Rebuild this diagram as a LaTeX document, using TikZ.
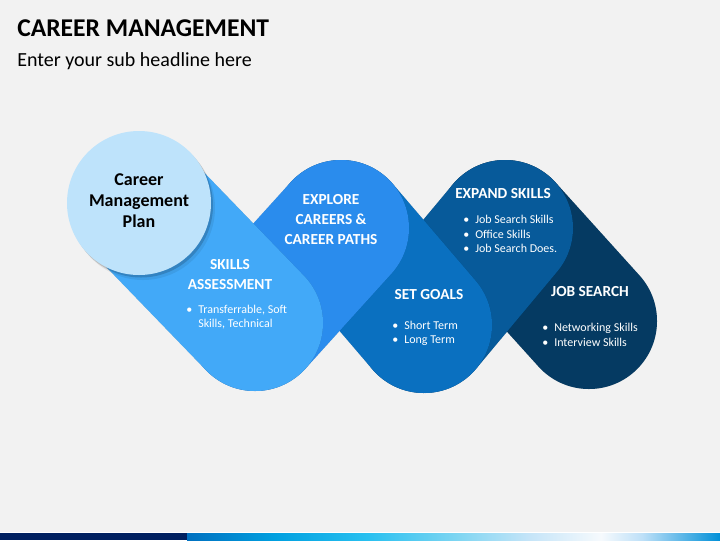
\documentclass[tikz,border=0pt]{standalone}
\usepackage{fontspec}
\setmainfont{Carlito}
\usetikzlibrary{calc, positioning}
\definecolor{bgGray}{HTML}{F2F2F2}
\definecolor{planBlue}{HTML}{BEE3FB}
\definecolor{skillBlue}{HTML}{42A9F8}
\definecolor{exploreBlue}{HTML}{2A8CED}
\definecolor{goalBlue}{HTML}{0A70C0}
\definecolor{expandBlue}{HTML}{075A9A}
\definecolor{searchBlue}{HTML}{053A62}
\definecolor{stripNavy}{HTML}{002060}
\tikzset{
  pill/.style={line width=102pt, line cap=round},
  pillshadow/.style={line width=102pt, line cap=round, black, opacity=0.16},
  pillhaze/.style={line width=102pt, line cap=round, black, opacity=0.07},
  head/.style={font=\bfseries\fontsize{11.5}{15}\selectfont, text=white, align=center, inner sep=0.75pt},
  points/.style={font=\fontsize{9}{10.8}\selectfont, text=white, align=left, inner sep=0.75pt, anchor=west},
}
\newcommand{\bul}{\makebox[9pt][l]{\textbullet}}
\begin{document}
\begin{tikzpicture}[x=0.75pt,y=0.75pt,yscale=-1,xscale=1]
		%set diagram to 720 x 540
		\fill [bgGray] (0,0) rectangle (720,540);
		\useasboundingbox (0,0) rectangle (720,540);

		%Bottom strip
		\fill [white] (0,531.5) rectangle (720,533);
		\fill [stripNavy] (0,533) rectangle (187,540);
		\shade [left color={rgb,255:red,0;green,112;blue,192}, right color={rgb,255:red,0;green,160;blue,224}] (187,533) rectangle (275,540);
		\shade [left color={rgb,255:red,0;green,160;blue,224}, right color={rgb,255:red,40;green,192;blue,240}] (275,533) rectangle (367,540);
		\shade [left color={rgb,255:red,40;green,192;blue,240}, right color={rgb,255:red,128;green,214;blue,242}] (367,533) rectangle (459,540);
		\shade [left color={rgb,255:red,128;green,214;blue,242}, right color={rgb,255:red,196;green,228;blue,248}] (459,533) rectangle (528,540);
		\shade [left color={rgb,255:red,196;green,228;blue,248}, right color={rgb,255:red,246;green,250;blue,253}] (528,533) rectangle (601,540);
		\shade [left color={rgb,255:red,246;green,250;blue,253}, right color={rgb,255:red,190;green,224;blue,248}] (601,533) rectangle (642,540);
		\shade [left color={rgb,255:red,190;green,224;blue,248}, right color={rgb,255:red,0;green,144;blue,216}] (642,533) rectangle (720,540);

		%Chain points
		\coordinate (P0) at (139,203);
		\coordinate (P1) at (255,323);
		\coordinate (P2) at (341,228);
		\coordinate (P3) at (424,325);
		\coordinate (P4) at (505,228);
		\coordinate (P5) at (589,321);

		%Pill: job search
		\draw [pillhaze, shift={(4,5)}] (P4) -- (P5);
		\draw [pillshadow, shift={(2,2.5)}] (P4) -- (P5);
		\draw [pill, searchBlue] (P4) -- (P5);
		%Pill: expand skills
		\draw [pillhaze, shift={(4,5)}] (P3) -- (P4);
		\draw [pillshadow, shift={(2,2.5)}] (P3) -- (P4);
		\draw [pill, expandBlue] (P3) -- (P4);
		%Pill: set goals
		\draw [pillhaze, shift={(4,5)}] (P2) -- (P3);
		\draw [pillshadow, shift={(2,2.5)}] (P2) -- (P3);
		\draw [pill, goalBlue] (P2) -- (P3);
		%Pill: explore
		\draw [pillhaze, shift={(4,5)}] (P1) -- (P2);
		\draw [pillshadow, shift={(2,2.5)}] (P1) -- (P2);
		\draw [pill, exploreBlue] (P1) -- (P2);
		%Pill: skills assessment
		\draw [pillhaze, shift={(4,5)}] (P0) -- (P1);
		\draw [pillshadow, shift={(2,2.5)}] (P0) -- (P1);
		\draw [pill, skillBlue] (P0) -- (P1);
		%Shape: Circle
		\fill [black, opacity=0.07] ($(P0)+(4,5)$) circle (72);
		\fill [black, opacity=0.16] ($(P0)+(2,2.5)$) circle (72);
		\fill [planBlue] (P0) circle (72);

		% Text Node
		\draw (17,36) node (title) [anchor=base west, inner sep=0pt, font=\bfseries\fontsize{19.2}{23}\selectfont] {CAREER MANAGEMENT};
		% Text Node
		\draw (17,66) node (subtitle) [anchor=base west, inner sep=0pt, font=\fontsize{15}{18}\selectfont] {Enter your sub headline here};
		% Text Node
		\draw (139,201) node (planText) [align=center, inner sep=0.75pt, font=\bfseries\fontsize{13.5}{15.75}\selectfont] {Career\\Management\\Plan};
		% Text Node
		\draw (230,275) node (skillsHead) [head] {SKILLS\\ASSESSMENT};
		% Text Node
		\draw (185,317) node (skillsList) [points] {\bul Transferrable, Soft\\\hphantom{\bul}Skills, Technical};
		% Text Node
		\draw (331,220) node (exploreHead) [head] {EXPLORE\\CAREERS \&\\CAREER PATHS};
		% Text Node
		\draw (429,295) node (goalsHead) [head] {SET GOALS};
		% Text Node
		\draw (391,333.5) node (goalsList) [points] {\bul Short Term\\\bul Long Term};
		% Text Node
		\draw (503,194) node (expandHead) [head] {EXPAND SKILLS};
		% Text Node
		\draw (462,234) node (expandList) [points] {\bul Job Search Skills\\\bul Office Skills\\\bul Job Search Does.};
		% Text Node
		\draw (590,292) node (searchHead) [head] {JOB SEARCH};
		% Text Node
		\draw (541,335) node (searchList) [points] {\bul Networking Skills\\\bul Interview Skills};

	\end{tikzpicture}
\end{document}
